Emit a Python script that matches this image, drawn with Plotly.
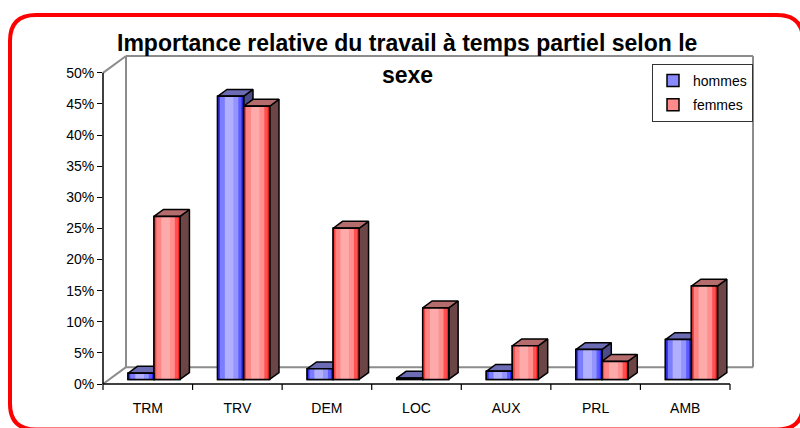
import plotly.graph_objects as go

# ---------------- data ----------------
categories = ["TRM", "TRV", "DEM", "LOC", "AUX", "PRL", "AMB"]
hommes = [1.0, 45.5, 1.7, 0.2, 1.3, 4.8, 6.4]
femmes = [26.2, 43.9, 24.3, 11.5, 5.4, 2.9, 15.0]
y_tickvals = [0, 5, 10, 15, 20, 25, 30, 35, 40, 45, 50]
y_ticktext = ["0%", "5%", "10%", "15%", "20%", "25%", "30%", "35%", "40%", "45%", "50%"]
series_names = ["hommes", "femmes"]

# ---------------- geometry (pseudo-3D) ----------------
W, H = 800, 428
ML, MT, MB = 103, 56, 41
XPX = 627 / 7.0          # pixels per category unit
YPX = 314 / 50.0         # pixels per percent
DX = 23 / XPX            # wall depth (x units)
DY = 17 / YPX            # wall depth (y units)
XMIN, XMAX = -0.5, 6.5 + DX
YMIN, YMAX = 0, 50 + DY
PW = (XMAX - XMIN) * XPX
MR = W - ML - PW
PH = (YMAX - YMIN) * YPX

FRONT = 0.27             # bar front at this fraction of depth
BDEPTH = 0.41            # bar depth as fraction of depth
BW = 26 / XPX            # bar width
SHIFT = FRONT * DX
BASE = FRONT * DY
BDX, BDY = BDEPTH * DX, BDEPTH * DY


def px(x):
    return (x - XMIN) / (XMAX - XMIN)


def py(y):
    return (y - YMIN) / (YMAX - YMIN)


def ppx(pxl):
    return (pxl - ML) / PW


def ppy(pyl):
    return (H - MB - pyl) / PH


FONT = "Liberation Sans, Arial, sans-serif"

styles = {
    "hommes": dict(mid="#8a8aff", top="#6c6cb4", side="#4c4c86",
                   strips=[(0.0, 0.10, "#3535ff"), (0.10, 0.28, "#7c7cff"),
                           (0.28, 0.62, "#b0b0ff"), (0.62, 0.80, "#9494ff"),
                           (0.80, 0.91, "#5c5cff"), (0.91, 1.0, "#2a2aff")],
                   off=SHIFT - BW),
    "femmes": dict(mid="#ff8a8a", top="#b46c6c", side="#6c4646",
                   strips=[(0.0, 0.10, "#ff4040"), (0.10, 0.28, "#ff8484"),
                           (0.28, 0.62, "#ffaaaa"), (0.62, 0.80, "#ff9090"),
                           (0.80, 0.91, "#ff5050"), (0.91, 1.0, "#ff2a2a")],
                   off=SHIFT),
}

fig = go.Figure()
xs = list(range(len(categories)))

# side / top faces (behind front faces)
for name, vals in zip(series_names, [hommes, femmes]):
    st = styles[name]
    sx, sy, tx, ty = [], [], [], []
    for i, v in zip(xs, vals):
        x0 = i + st["off"]
        x1 = x0 + BW
        b = BASE
        t = BASE + v
        sx += [x1, x1, x1 + BDX, x1 + BDX, x1, None]
        sy += [b, t, t + BDY, b + BDY, b, None]
        tx += [x0, x1, x1 + BDX, x0 + BDX, x0, None]
        ty += [t, t, t + BDY, t + BDY, t, None]
    fig.add_trace(go.Scatter(x=sx, y=sy, mode="lines", fill="toself", fillcolor=st["side"],
                             line=dict(color="black", width=1.5), showlegend=False,
                             hoverinfo="skip", zorder=1))
    fig.add_trace(go.Scatter(x=tx, y=ty, mode="lines", fill="toself", fillcolor=st["top"],
                             line=dict(color="black", width=1.5), showlegend=False,
                             hoverinfo="skip", zorder=1))

# front faces
for name, vals in zip(series_names, [hommes, femmes]):
    st = styles[name]
    fig.add_trace(go.Bar(x=xs, y=vals, base=[BASE] * len(xs), width=BW, offset=st["off"],
                         marker=dict(color=st["mid"], line=dict(color="black", width=1.5)),
                         name=name, legendgroup=name, zorder=2))
    for a, b, c in st["strips"]:
        fig.add_trace(go.Bar(x=xs, y=vals, base=[BASE] * len(xs), width=(b - a) * BW,
                             offset=st["off"] + a * BW,
                             marker=dict(color=c, line=dict(width=0)),
                             showlegend=False, hoverinfo="skip", zorder=3))
    fig.add_trace(go.Bar(x=xs, y=vals, base=[BASE] * len(xs), width=BW, offset=st["off"],
                         marker=dict(color="rgba(0,0,0,0)", line=dict(color="black", width=1.5)),
                         showlegend=False, hoverinfo="skip", zorder=4))

# ---------------- structure lines ----------------
shapes = []
GRAY = "#8c8c8c"


def seg(x0, y0, x1, y1, color, width):
    shapes.append(dict(type="line", xref="paper", yref="paper",
                       x0=px(x0), y0=py(y0), x1=px(x1), y1=py(y1),
                       line=dict(color=color, width=width), layer="below"))


wl, wr = XMIN + DX, XMAX
seg(wl, DY, wr, DY, GRAY, 2)           # back floor edge
seg(wl, DY, wl, YMAX, GRAY, 2)         # wall left
seg(wr, DY, wr, YMAX, GRAY, 2)         # wall right
seg(wl, YMAX, wr, YMAX, GRAY, 2)       # wall top
seg(XMIN, 0, wl, DY, GRAY, 2)          # floor diagonal
seg(XMIN, 50, wl, YMAX, GRAY, 2)       # top diagonal
seg(XMIN, 0, XMIN, 50, "black", 1.5)   # y axis
seg(XMIN, 0, 6.5, 0, "black", 1.5)     # x axis
for k in range(len(categories) + 1):
    xv = -0.5 + k
    shapes.append(dict(type="line", xref="paper", yref="paper",
                       x0=px(xv), x1=px(xv), y0=0, y1=-6 / PH,
                       line=dict(color="black", width=1.2)))

# red rounded border
L, T, R, B, RAD = 10, 14.5, 803, 433, 26
def P(a, b):
    return f"{ppx(a):.5f},{ppy(b):.5f}"
path = (f"M{P(L + RAD, T)} L{P(R - RAD, T)} Q{P(R, T)} {P(R, T + RAD)} "
        f"L{P(R, B - RAD)} Q{P(R, B)} {P(R - RAD, B)} L{P(L + RAD, B)} "
        f"Q{P(L, B)} {P(L, B - RAD)} L{P(L, T + RAD)} Q{P(L, T)} {P(L + RAD, T)} Z")
shapes.append(dict(type="path", xref="paper", yref="paper", path=path,
                   line=dict(color="#ff0000", width=4), layer="above"))

annotations = [
    dict(text="<b>Importance relative du travail à temps partiel selon le</b>",
         xref="paper", yref="paper", x=ppx(407), y=ppy(43), showarrow=False,
         xanchor="center", yanchor="middle", font=dict(family=FONT, size=23, color="black")),
    dict(text="<b>sexe</b>", xref="paper", yref="paper", x=ppx(407), y=ppy(75), showarrow=False,
         xanchor="center", yanchor="middle", font=dict(family=FONT, size=23, color="black")),
]

fig.update_layout(
    width=W, height=H,
    margin=dict(l=ML, r=MR, t=MT, b=MB, pad=0),
    paper_bgcolor="white", plot_bgcolor="white",
    barmode="overlay",
    showlegend=True,
    legend=dict(x=1, xanchor="right", y=ppy(64), yanchor="top",
                bgcolor="white", bordercolor="#333333", borderwidth=1,
                font=dict(family=FONT, size=14, color="black"),
                itemwidth=30, tracegroupgap=3, traceorder="grouped"),
    xaxis=dict(range=[XMIN, XMAX], tickvals=xs, ticktext=categories,
               showgrid=False, zeroline=False, showline=False,
               ticks="outside", ticklen=11, tickcolor="rgba(0,0,0,0)",
               tickfont=dict(family=FONT, size=14, color="black"), fixedrange=True),
    yaxis=dict(range=[YMIN, YMAX], tickvals=y_tickvals, ticktext=y_ticktext,
               showgrid=False, zeroline=False, showline=False,
               ticks="outside", ticklen=5, tickcolor="black", tickwidth=1,
               tickfont=dict(family=FONT, size=14, color="black"), fixedrange=True),
    shapes=shapes,
    annotations=annotations,
    hovermode=False,
)

fig.write_html("out.html", config={"displayModeBar": False},
               post_script="document.body.style.margin='0';document.body.style.overflow='hidden';")
